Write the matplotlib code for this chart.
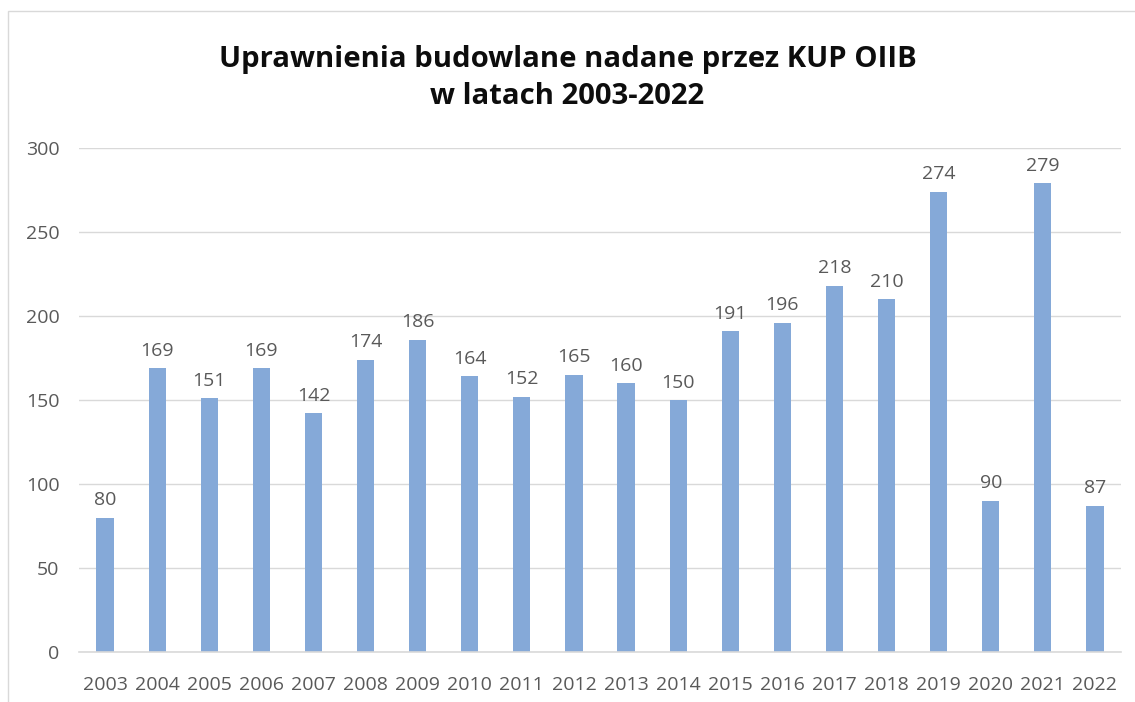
import matplotlib.pyplot as plt
from matplotlib.patches import Rectangle

years = [str(y) for y in range(2003, 2023)]
counts = [80, 169, 151, 169, 142, 174, 186, 164, 152, 165,
          160, 150, 191, 196, 218, 210, 274, 90, 279, 87]

title = "Uprawnienia budowlane nadane przez KUP OIIB\nw latach 2003-2022"

plt.rcParams['font.family'] = ['Open Sans', 'DejaVu Sans']

fig = plt.figure(figsize=(11.35, 7.02), dpi=100)
ax = fig.add_axes([79 / 1135, 1 - 652 / 702, (1121 - 79) / 1135, (652 - 148) / 702])

x = range(len(years))
bars = ax.bar(x, counts, width=0.33, color="#85A9D8", zorder=2)
for xi, v in zip(x, counts):
    ax.text(xi, v + 5, str(v), ha="center", va="bottom", fontsize=14, color="#595959")

ax.set_xlim(-0.5, len(years) - 0.5)
ax.set_ylim(0, 300)
ax.set_yticks(range(0, 301, 50))
ax.set_xticks(list(x))
ax.set_xticklabels(years)
ax.tick_params(axis="both", length=0, labelsize=14, labelcolor="#595959")
ax.tick_params(axis="y", pad=14)
ax.tick_params(axis="x", pad=17)
ax.grid(axis="y", color="#D9D9D9", linewidth=1, zorder=0)
for s in ["top", "right", "left"]:
    ax.spines[s].set_visible(False)
ax.spines["bottom"].set_color("#D9D9D9")
ax.spines["bottom"].set_linewidth(1.2)

fig.text(0.5, 1 - 78 / 702, title, ha="center", va="center",
         fontsize=21.1, fontweight="bold", color="#0D0D0D", linespacing=1.35)

# chart frame
fig.patches.append(Rectangle((8 / 1135, -0.01), 1.2, 1 - 11 / 702 + 0.01,
                             transform=fig.transFigure, fill=False,
                             edgecolor="#D9D9D9", linewidth=1))

fig.savefig("out.png", dpi=100)
